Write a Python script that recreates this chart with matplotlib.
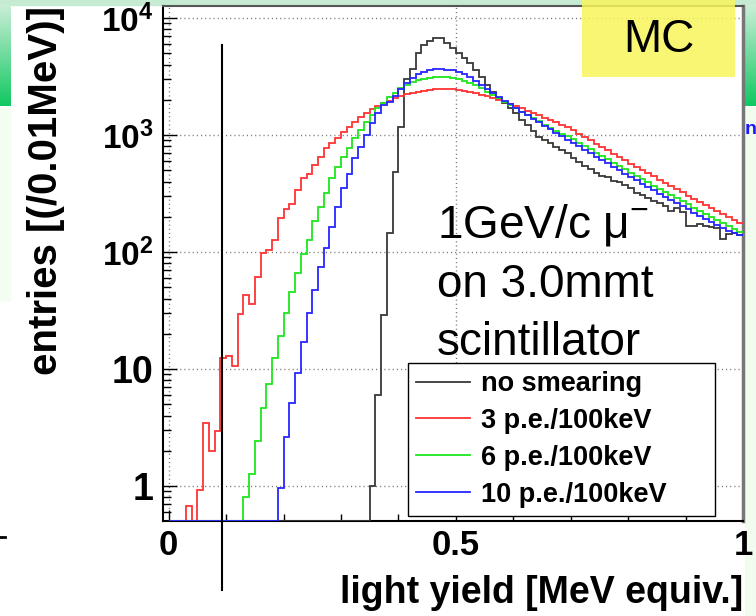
import numpy as np
import matplotlib
matplotlib.use('Agg')
import matplotlib.pyplot as plt
from matplotlib.patches import Rectangle
from matplotlib.lines import Line2D
from matplotlib.colors import LinearSegmentedColormap
from matplotlib.ticker import LogLocator, NullFormatter

plt.rcParams['font.family'] = ['Liberation Sans', 'DejaVu Sans']
plt.rcParams['mathtext.fontset'] = 'custom'
plt.rcParams['mathtext.rm'] = 'Liberation Sans'
plt.rcParams['mathtext.bf'] = 'Liberation Sans:bold'
plt.rcParams['mathtext.it'] = 'Liberation Sans:italic'

# histogram: 100 bins of 0.01 MeV from 0 to 1
bin_edges = np.linspace(0.0, 1.0, 101)

no_smearing = [0] * 35 + [
    1.0, 6.0, 29, 144, 480, 1180, 3000, 3700, 4990, 5880,
    6400, 6800, 6700, 6150, 5500, 4990, 4520, 4095, 3590, 3150,
    2673, 2344, 2056, 1863, 1689, 1530, 1343, 1217, 1081, 968,
    906, 849, 795, 745, 697, 640, 590, 545, 510, 475,
    445, 435, 407, 395, 372, 352, 321, 305, 287, 274,
    260, 247, 225, 236, 221, 167, 167, 173, 167, 163,
    159, 128, 142, 144, 141]

pe3 = [
    0, 0, 0, 0.67, 0, 0.92, 3.47, 2.0, 2.95, 12.3,
    12.9, 10.6, 29.3, 42.9, 35.9, 61.5, 99, 104, 127, 194,
    233, 257, 339, 426, 464, 554, 653, 770, 849, 948,
    1067, 1178, 1300, 1417, 1532, 1658, 1770, 1870, 1960, 2060,
    2170, 2223, 2285, 2345, 2391, 2422, 2455, 2470, 2470, 2455,
    2422, 2375, 2328, 2268, 2211, 2140, 2072, 1991, 1915, 1841,
    1770, 1690, 1615, 1543, 1473, 1407, 1344, 1284, 1226, 1171,
    1095, 1025, 960, 898, 841, 788, 738, 692, 649, 608,
    570, 535, 502, 471, 442, 415, 390, 366, 344, 323,
    304, 286, 269, 253, 238, 224, 211, 199, 187, 176]

pe6 = [0] * 13 + [
    0.81, 1.26, 2.42, 4.67, 7.4, 12.3, 19.1, 29.9, 45.8,
    66, 96, 127, 184, 244, 318, 426, 530, 653, 770,
    948, 1104, 1300, 1482, 1691, 1889, 2100, 2300, 2520, 2700,
    2840, 2940, 3030, 3090, 3130, 3140, 3120, 3070, 3000, 2900,
    2780, 2650, 2500, 2350, 2200, 2060, 1930, 1800, 1690, 1585,
    1485, 1392, 1305, 1225, 1150, 1080, 1030, 980,
    917, 858, 803, 752, 704, 659, 618, 579, 543, 509,
    477, 448, 420, 394, 370, 347, 326, 307, 288, 271,
    255, 240, 226, 212, 200, 188, 177, 166, 157, 147]

pe10 = [0] * 19 + [
    0.96, 2.64, 5.15, 9.3, 16.9, 29.9, 47.3, 75, 108, 165,
    244, 350, 461, 632, 785, 1000, 1259, 1532, 1805, 1920,
    2160, 2450, 2800, 3080, 3300, 3490, 3600, 3660, 3670, 3630,
    3560, 3450, 3310, 3120, 2880, 2670, 2470, 2290, 2120, 1970,
    1830, 1700, 1580, 1470, 1370, 1280, 1195, 1115, 1040, 975,
    915, 860, 803, 750, 701, 655, 612, 572, 535, 500,
    468, 438, 410, 384, 360, 337, 316, 297, 278, 261,
    245, 231, 217, 204, 192, 180, 170, 160, 151, 145, 141]

series = [no_smearing, pe3, pe6, pe10]
labels = ['no smearing', '3 p.e./100keV', '6 p.e./100keV', '10 p.e./100keV']
colors = ['#383838', '#ff3333', '#1ee61e', '#2626ff']

y_ticks = [1, 10, 100, 1000, 10000]
y_ticklabels = ['1', '10', r'$\mathbf{10^{2}}$', r'$\mathbf{10^{3}}$', r'$\mathbf{10^{4}}$']
x_ticks = [0, 0.5, 1]
x_ticklabels = ['0', '0.5', '1']

W, H = 756, 616


def fx(px):
    return px / W


def fy(py):
    return 1 - py / H


fig = plt.figure(figsize=(7.56, 6.16), dpi=100)

# slide background bits around the plot
fig.add_artist(Rectangle((0, fy(5)), 1, 5 / H, transform=fig.transFigure,
                         color='#c6ebd3', zorder=0))
fig.add_artist(Rectangle((0, fy(300)), fx(10), 193 / H, transform=fig.transFigure,
                         color='#f3fdf1', zorder=0))
fig.add_artist(Rectangle((fx(745), 0), fx(11), fy(107), transform=fig.transFigure,
                         color='#f1fcef', zorder=0))
grad = LinearSegmentedColormap.from_list('slide', ['#c9eed6', '#12c862'])
for x0 in (0, 745):
    gax = fig.add_axes([fx(x0), fy(106), fx(11), 101 / H])
    gax.imshow(np.linspace(0, 1, 60).reshape(-1, 1), aspect='auto', cmap=grad)
    gax.axis('off')
fig.text(fx(745), fy(134), 'n', color='#1a1aff', fontsize=14, fontweight='bold')
fig.add_artist(Line2D([0, fx(5)], [fy(537), fy(537)], color='black', lw=2))

ax = fig.add_axes([fx(163), fy(521), fx(580), 515 / H])
ax.set_yscale('log')
ax.set_xlim(-0.0099, 1.0)
ax.set_ylim(0.502, 12670)
y_floor = ax.get_ylim()[0]

for vals, col in zip(series, colors):
    v = np.asarray(vals, dtype=float)
    v = np.where(v > 0, v, y_floor)
    ax.stairs(v, bin_edges, color=col, lw=1.3, baseline=None, zorder=3)

ax.set_axisbelow(True)
ax.grid(True, which='major', ls=(0, (0.8, 2.2)), color='#777777', lw=1.0)

ax.set_xticks(x_ticks, x_ticklabels, fontsize=25, fontweight='bold')
ax.set_xticks(np.linspace(0, 1, 11), minor=True)
ax.set_yticks(y_ticks, y_ticklabels, fontsize=27, fontweight='bold')
for lab in ax.get_yticklabels()[2:]:
    lab.set_fontsize(24)
ax.yaxis.set_minor_locator(LogLocator(base=10, subs=np.arange(2, 10)))
ax.yaxis.set_minor_formatter(NullFormatter())
ax.tick_params(axis='both', which='both', direction='in', top=False, right=False,
               color='black', width=1.0)
ax.tick_params(axis='x', which='major', length=8, pad=6)
ax.tick_params(axis='x', which='minor', length=5)
ax.tick_params(axis='y', which='major', length=10, pad=7)
ax.tick_params(axis='y', which='minor', length=6)

for side in ('left', 'bottom'):
    ax.spines[side].set_color('black')
    ax.spines[side].set_linewidth(1.5)
ax.spines['top'].set_color('#555555')
ax.spines['top'].set_linewidth(1.5)
ax.spines['right'].set_color('#777777')
ax.spines['right'].set_linewidth(2.5)

# marker line drawn on the slide
ax.axvline(0.093, ymin=(521 - 590) / 515, ymax=(521 - 45) / 515,
           color='black', lw=1.5, clip_on=False, zorder=6)

handles = [Line2D([], [], color=c, lw=1.3) for c in colors]
leg = ax.legend(handles, labels, loc='upper left',
                bbox_to_anchor=(0.4224, 0.0272, 0.530, 0.2796), mode='expand',
                borderaxespad=0, frameon=True, fancybox=False, framealpha=1,
                edgecolor='black', handlelength=2.0, handletextpad=0.4,
                labelspacing=0.4, borderpad=0.3,
                prop={'weight': 'bold', 'size': 19.5})
leg.get_frame().set_linewidth(1.0)
leg.set_zorder(7)

fig.text(fx(437), fy(238), '1GeV/c μ$^{-}$', fontsize=33, va='baseline', ha='left')
fig.text(fx(437), fy(297), 'on 3.0mmt', fontsize=33, va='baseline', ha='left')
fig.text(fx(437), fy(355), 'scintillator', fontsize=33, va='baseline', ha='left')

fig.add_artist(Rectangle((fx(582), fy(77)), fx(153), 77 / H, transform=fig.transFigure,
                         facecolor='#f8f55a', edgecolor='none', alpha=0.85, zorder=5))
fig.text(fx(659), fy(40), 'MC', fontsize=33, ha='center', va='center', zorder=6)

fig.text(fx(46), fy(190), 'entries [(/0.01MeV)]', rotation=90, ha='center',
         va='center', fontsize=29, fontweight='bold')
fig.text(fx(743), fy(611), 'light yield [MeV equiv.]', ha='right', va='bottom',
         fontsize=27, fontweight='bold')

fig.savefig('out.png', dpi=100)
